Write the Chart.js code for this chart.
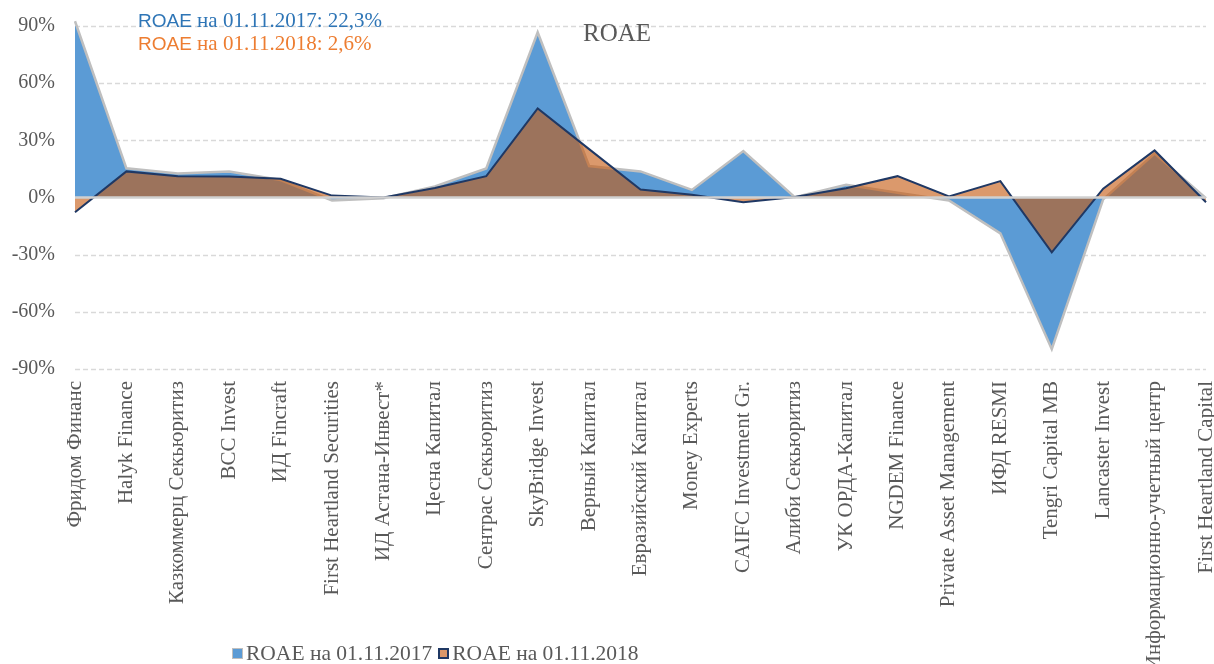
<!DOCTYPE html>
<html>
<head>
<meta charset="utf-8">
<script src="https://cdn.jsdelivr.net/npm/chart.js@4.4.1/dist/chart.umd.min.js"></script>
<style>
  html, body { margin: 0; padding: 0; background: #ffffff; }
  #wrap { position: relative; width: 1214px; height: 664px; overflow: hidden; }
  #c { position: absolute; left: 0; top: 0; }
  .txt { position: absolute; white-space: nowrap; line-height: 1; }
  #title { left: 583px; top: 19px; font: 25px "Liberation Serif", serif; color: #595959; }
  .ann { left: 138px; font-family: "Liberation Serif", serif; font-size: 21px; }
  .ann .s { font-family: "Liberation Sans", Arial, sans-serif; font-size: 19px; }
  #ann1 { top: 10px; color: #2E75B6; }
  #ann2 { top: 33px; color: #ED7D31; }
  #legend { left: 232px; top: 641px; font: 21.5px "Liberation Serif", serif; color: #595959; display: flex; align-items: center; }
  #legend .box { display: inline-block; width: 11px; height: 11px; margin-right: 3px; box-sizing: border-box; }
  #legend .item { display: flex; align-items: center; margin-right: 6px; }
</style>
</head>
<body>
<div id="wrap">
  <canvas id="c" width="1214" height="664"></canvas>
  <div class="txt" id="title">ROAE</div>
  <div class="txt ann" id="ann1"><span class="s">ROAE</span> на 01.11.2017: 22,3%</div>
  <div class="txt ann" id="ann2"><span class="s">ROAE</span> на 01.11.2018: 2,6%</div>
  <div class="txt" id="legend"></div>
</div>
<script>
const categories = ['Фридом Финанс','Halyk Finance','Казкоммерц Секьюритиз','BCC Invest','ИД Fincraft','First Heartland Securities','ИД Астана-Инвест*','Цесна Капитал','Сентрас Секьюритиз','SkyBridge Invest','Верный Капитал','Евразийский Капитал','Money Experts','CAIFC Investment Gr.','Алиби Секьюритиз','УК ОРДА-Капитал','NGDEM Finance','Private Asset Management','ИФД RESMI','Tengri Capital MB','Lancaster Invest','Информационно-учетный центр','First Heartland Capital'];
const roae2017 = [92.5, 15.3, 12.6, 13.7, 9.2, -1.6, -0.4, 5.8, 15.2, 86.7, 16.5, 13.7, 4.0, 24.4, 0.2, 6.7, 2.5, -1.6, -18.8, -79.6, -1.0, 23.0, -0.3];
const roae2018 = [-7.7, 13.7, 11.2, 11.0, 9.8, 1.0, 0.0, 5.0, 11.2, 46.7, 25.4, 4.2, 1.4, -2.5, 0.3, 4.9, 11.2, 0.5, 8.6, -28.8, 4.6, 24.7, -2.5];
const seriesNames = ['ROAE на 01.11.2017', 'ROAE на 01.11.2018'];
const yTicks = [-90, -60, -30, 0, 30, 60, 90];

const blueFill = '#5B9BD5', blueLine = '#BFBFBF';
const orangeFill = 'rgba(197,90,17,0.62)', orangeLine = '#1F3864';

const gridLines = {
  id: 'gridLines',
  beforeDatasetsDraw(chart) {
    const {ctx, chartArea, scales} = chart;
    ctx.save();
    ctx.strokeStyle = '#D9D9D9';
    ctx.lineWidth = 1.5;
    ctx.setLineDash([5, 3]);
    yTicks.forEach(v => {
      if (v === 0) return;
      const y = Math.round(scales.y.getPixelForValue(v)) + 0.5;
      ctx.beginPath();
      ctx.moveTo(chartArea.left, y);
      ctx.lineTo(chartArea.right, y);
      ctx.stroke();
    });
    ctx.restore();
  },
  afterDatasetsDraw(chart) {
    const {ctx, chartArea, scales} = chart;
    const y = scales.y.getPixelForValue(0);
    ctx.save();
    ctx.strokeStyle = '#D0D0D0';
    ctx.lineWidth = 2.5;
    ctx.beginPath();
    ctx.moveTo(chartArea.left, y);
    ctx.lineTo(chartArea.right, y);
    ctx.stroke();
    ctx.restore();
  }
};

new Chart(document.getElementById('c'), {
  type: 'line',
  data: {
    labels: categories,
    datasets: [
      { label: seriesNames[0], data: roae2017, fill: 'origin', backgroundColor: blueFill, borderColor: blueLine, borderWidth: 2.5, pointRadius: 0, tension: 0, order: 1, clip: { left: 1, right: 4, top: 8, bottom: 4 } },
      { label: seriesNames[1], data: roae2018, fill: 'origin', backgroundColor: orangeFill, borderColor: orangeLine, borderWidth: 2, pointRadius: 0, tension: 0, order: 0, clip: { left: 1, right: 4, top: 8, bottom: 4 } }
    ]
  },
  options: {
    responsive: false,
    animation: false,
    layout: { padding: { top: 26, right: 8, left: 0, bottom: 0 } },
    plugins: { legend: { display: false }, tooltip: { enabled: false }, title: { display: false } },
    scales: {
      x: {
        offset: false,
        grid: { display: false, drawTicks: false },
        border: { display: false },
        ticks: { autoSkip: false, minRotation: 90, maxRotation: 90, padding: 12, color: '#595959', font: { family: 'Liberation Serif', size: 21 } },
        afterFit(scale) { scale.height = 295; scale.paddingLeft = 0; scale.paddingRight = 0; }
      },
      y: {
        min: -90, max: 90,
        afterBuildTicks(scale) { scale.ticks = yTicks.map(v => ({ value: v })); },
        grid: { display: false, drawTicks: false },
        border: { display: false },
        ticks: { padding: 20, color: '#595959', font: { family: 'Liberation Serif', size: 20 }, callback: v => v + '%' },
        afterFit(scale) { scale.width = 75; scale.paddingTop = 0; scale.paddingBottom = 0; }
      }
    }
  },
  plugins: [gridLines]
});

const legend = document.getElementById('legend');
const boxStyles = [
  'background:' + blueFill + ';border:1px solid ' + blueLine + ';',
  'background:rgba(215,140,90,0.9);border:2px solid ' + orangeLine + ';'
];
seriesNames.forEach((n, i) => {
  const it = document.createElement('span');
  it.className = 'item';
  it.innerHTML = '<span class="box" style="' + boxStyles[i] + '"></span><span>' + n + '</span>';
  legend.appendChild(it);
});
</script>
</body>
</html>
